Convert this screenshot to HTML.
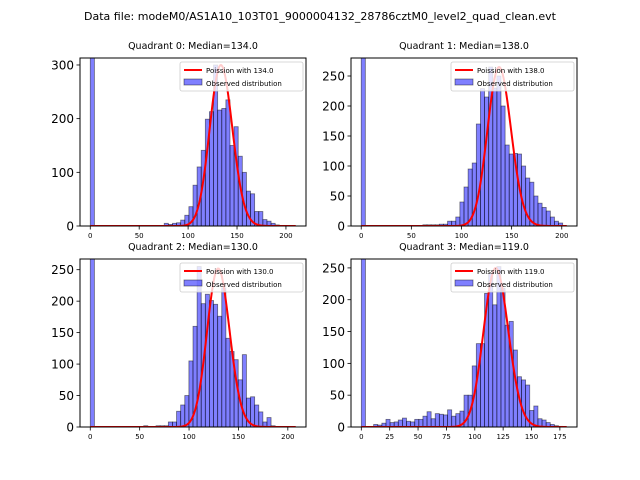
<!DOCTYPE html>
<html><head><meta charset="utf-8"><style>
body{margin:0;background:#fff;}
svg{display:block;font-family:"DejaVu Sans","Liberation Sans",sans-serif;}
</style></head><body>
<svg id="fig" width="640" height="480" viewBox="0 0 640 480" xmlns="http://www.w3.org/2000/svg">
<rect width="640" height="480" fill="#fff"/>
<text x="320" y="20" font-size="11" text-anchor="middle">Data file: modeM0/AS1A10_103T01_9000004132_28786cztM0_level2_quad_clean.evt</text>
</svg>
<script>
// ---- data ----
const titles = ["Quadrant 0: Median=134.0","Quadrant 1: Median=138.0","Quadrant 2: Median=130.0","Quadrant 3: Median=119.0"];
const medians = [134, 138, 130, 119];
const binWidths = [4.2, 4.1, 4.16, 3.62];
const counts0 = [400,0,0,0,0,0,0,0,0,0,0,0,0,0,0,0,0,0,5,3,5,6,11,20,36,76,110,141,199,213,300,216,219,235,150,185,130,100,65,60,27,27,12,9,5,2,0,0,0,0];
const counts1 = [400,0,0,0,0,0,0,0,0,0,0,0,0,0,0,2,2,2,2,3,3,8,8,15,40,65,95,105,170,229,215,265,230,250,200,135,120,121,120,100,80,73,50,38,31,25,15,8,5,0];
const counts2 = [400,0,0,0,0,0,0,0,0,0,0,0,0,2,0,0,2,2,2,8,8,25,35,50,105,160,255,196,211,201,195,176,221,141,120,107,75,115,46,48,35,24,8,15,2,0,0,0,0,0];
const counts3 = [400,0,0,4,3,6,12,7,8,11,14,9,8,12,12,17,24,13,21,20,19,27,17,21,25,50,50,96,131,131,210,241,192,252,218,160,166,121,79,74,66,26,33,13,11,7,4,2,1,0];
const curveScales = [8700, 7800, 7200, 6830];
const curveMax = [210, 205, 208, 181];
const yTicks = [[0,100,200,300],[0,50,100,150,200,250],[0,50,100,150,200,250],[0,50,100,150,200,250]];
const xTicks = [[0,50,100,150,200],[0,50,100,150,200],[0,50,100,150,200],[0,25,50,75,100,125,150,175]];
const yMax = [313, 280, 267, 264];
const xMin = [-10.5, -10.2, -10.4, -9.1];
const xMax = [220.5, 215.2, 218.4, 190.1];
const allCounts = [counts0, counts1, counts2, counts3];
const boxes = [[80,58,306,226],[351,58,577,226],[80,259,306,427],[351,259,577,427]];
// ---- draw ----
const NS="http://www.w3.org/2000/svg";
const svg=document.getElementById('fig');
function mk(tag,attrs,parent){const e=document.createElementNS(NS,tag);for(const k in attrs)e.setAttribute(k,attrs[k]);(parent||svg).appendChild(e);return e;}
function lgamma(n){ // log(n!) via Stirling for n>=1
  if(n<2) return 0;
  return n*Math.log(n)-n+0.5*Math.log(2*Math.PI*n)+1/(12*n)-1/(360*n*n*n);
}
function poisson(k,l){return Math.exp(k*Math.log(l)-l-lgamma(k));}
for(let p=0;p<4;p++){
  const [L,T,R,B]=boxes[p];
  const g=mk('g',{});
  
  
  const sx=v=>L+(v-xMin[p])/(xMax[p]-xMin[p])*(R-L);
  const sy=v=>B-Math.min(v,yMax[p])/yMax[p]*(B-T);
  const cp=mk('clipPath',{id:'cp'+p},g);
  mk('rect',{x:L,y:T,width:R-L,height:B-T},cp);
  const bars=mk('g',{'clip-path':'url(#cp'+p+')'},g);
  
  
  const c=allCounts[p], bw=binWidths[p];
  c.forEach((v,i)=>{
    if(v<=0) return;
    const x0=sx(i*bw), x1=sx((i+1)*bw);
    const r=mk('rect',{x:x0,y:sy(v+ (v>=yMax[p]?20:0)),width:x1-x0,height:B-sy(v+(v>=yMax[p]?20:0)),fill:'rgba(0,0,255,0.5)',stroke:'rgba(0,0,0,0.5)','stroke-width':0.8},bars);
    
    
  });
  let d='';
  for(let k=0;k<=curveMax[p];k++){
    const y=poisson(k,medians[p])*curveScales[p];
    d+=(k?'L':'M')+sx(k).toFixed(2)+','+sy(y).toFixed(2);
  }
  const line=mk('path',{d:d,fill:'none',stroke:'#f00','stroke-width':2,'clip-path':'url(#cp'+p+')'},g);
  
  
  mk('rect',{x:L,y:T,width:R-L,height:B-T,fill:'none',stroke:'#000','stroke-width':1},g);
  yTicks[p].forEach(t=>{
    const y=sy(t);
    mk('line',{x1:L-3.5,x2:L,y1:y,y2:y,stroke:'#000','stroke-width':0.8},g);
    const tx=mk('text',{x:L-6,y:y+4.5,'font-size':12,'text-anchor':'end'},g);
    tx.textContent=t;
    
    
  });
  xTicks[p].forEach(t=>{
    const x=sx(t);
    mk('line',{x1:x,x2:x,y1:B,y2:B+3.5,stroke:'#000','stroke-width':0.8},g);
    const tx=mk('text',{x:x,y:B+12,'font-size':7,'text-anchor':'middle'},g);
    tx.textContent=t;
    
    
  });
  const tt=mk('text',{x:(L+R)/2,y:T-9,'font-size':9.5,'text-anchor':'middle'},g);
  tt.textContent=titles[p];
  
  
  const lg=mk('g',{},g);
  
  
  mk('rect',{x:R-126,y:T+4,width:123,height:29,rx:2,fill:'rgba(255,255,255,0.8)',stroke:'#ccc','stroke-width':0.8},lg);
  mk('line',{x1:R-122,x2:R-104,y1:T+12,y2:T+12,stroke:'#f00','stroke-width':2},lg);
  mk('rect',{x:R-122,y:T+21,width:18,height:6,fill:'rgba(0,0,255,0.5)',stroke:'rgba(0,0,0,0.5)','stroke-width':0.8},lg);
  const l1=mk('text',{x:R-100,y:T+15,'font-size':7},lg);
  l1.textContent='Poission with '+medians[p].toFixed(1);
  
  
  const l2=mk('text',{x:R-100,y:T+28,'font-size':7},lg);
  l2.textContent='Observed distribution';
  
  
}
</script>
</body></html>
